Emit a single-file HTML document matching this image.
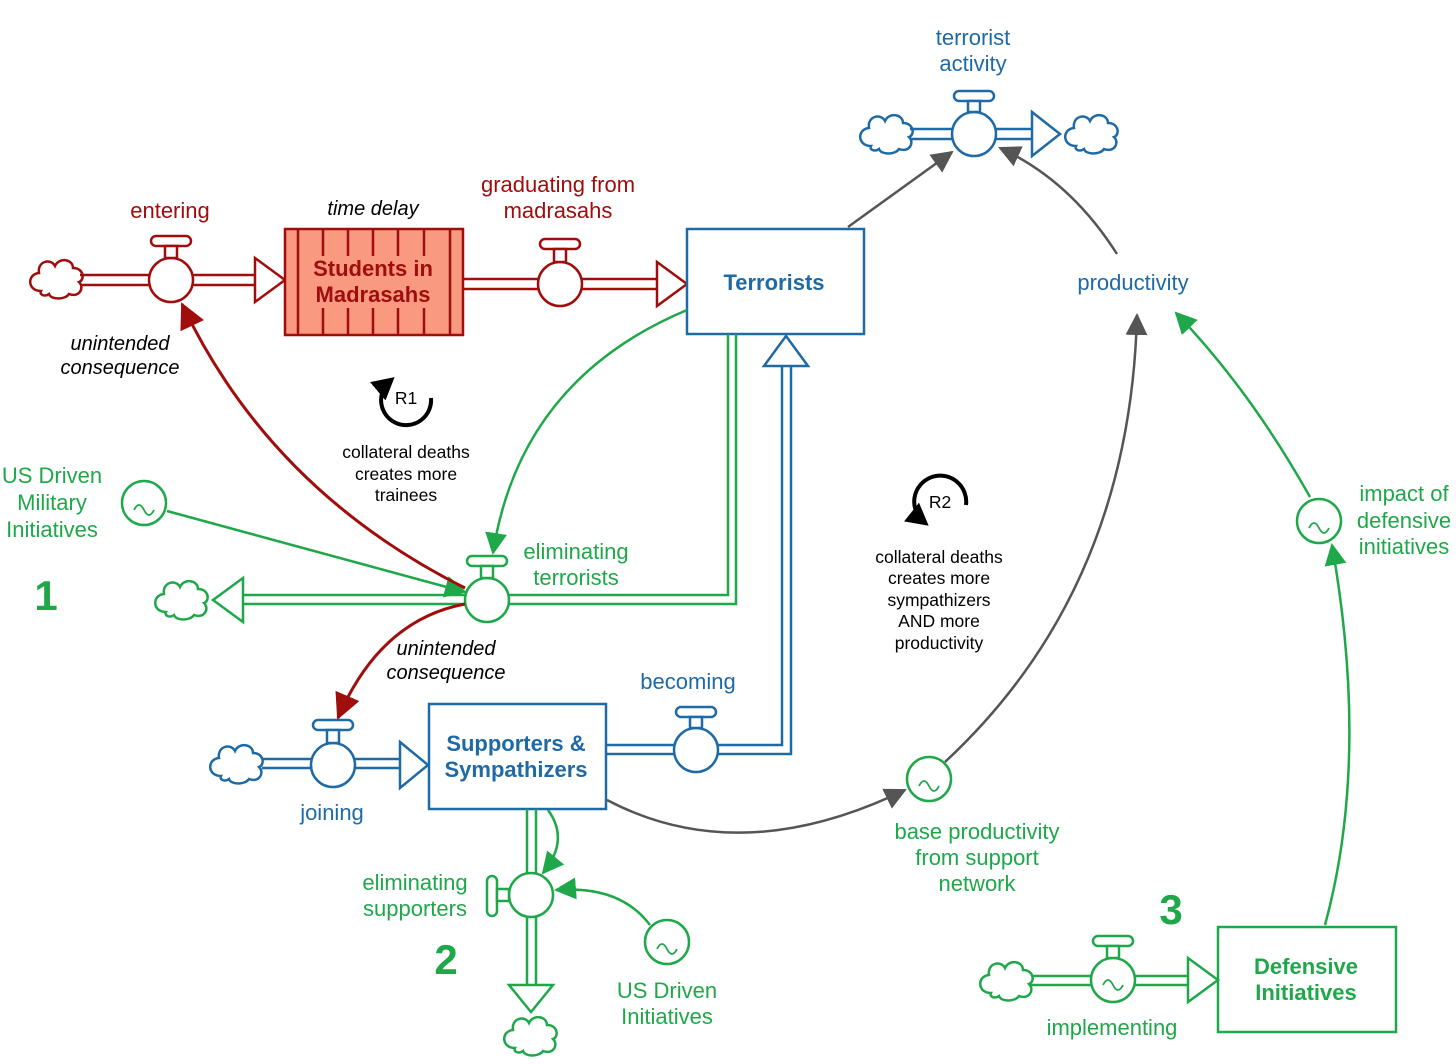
<!DOCTYPE html>
<html><head><meta charset="utf-8"><style>
html,body{margin:0;padding:0;background:#fff;}
svg{display:block;font-family:"Liberation Sans",Arial,sans-serif;}
</style></head><body>
<svg width="1456" height="1064" viewBox="0 0 1456 1064" xmlns="http://www.w3.org/2000/svg">
<defs>
<path id="cloud" d="M-16,13 C-30,13 -30,-4 -18,-5 C-20,-17 -6,-20 -2,-12 C2,-21 16,-19 16,-10 C27,-10 28,2 22,4 C28,10 22,20 12,16 C8,22 -6,22 -8,16 C-12,19 -18,17 -16,13 Z"/>
<marker id="agr" markerWidth="22" markerHeight="22" refX="20" refY="11" orient="auto" markerUnits="userSpaceOnUse"><path d="M0,0 L22,11 L0,22 Z" fill="#555"/></marker>
<marker id="agn" markerWidth="22" markerHeight="22" refX="20" refY="11" orient="auto" markerUnits="userSpaceOnUse"><path d="M0,0 L22,11 L0,22 Z" fill="#1fa84a"/></marker>
<marker id="ard" markerWidth="26" markerHeight="26" refX="24" refY="13" orient="auto" markerUnits="userSpaceOnUse"><path d="M0,0 L26,13 L0,26 Z" fill="#a00d0d"/></marker>
<marker id="abk" markerWidth="22" markerHeight="24" refX="16" refY="12" orient="auto" markerUnits="userSpaceOnUse"><path d="M0,0 L22,12 L0,24 Z" fill="#000"/></marker>
</defs>

<!-- RED CHAIN -->
<g stroke="#a00d0d" stroke-width="2.5" fill="#fff">
<use href="#cloud" x="57" y="278"/>
<line x1="80" y1="275" x2="255" y2="275"/><line x1="80" y1="285" x2="255" y2="285"/>
<polygon points="255,258 285,280 255,302"/>
<circle cx="171" cy="280" r="22"/>
<rect x="151" y="236" width="40" height="10" rx="5"/>
<rect x="165" y="246" width="12" height="12"/>
<rect x="285" y="229" width="178" height="106" fill="#f99a80"/>
<line x1="298" y1="229" x2="298" y2="335"/><line x1="450" y1="229" x2="450" y2="335"/>
<g>
<line x1="323" y1="229" x2="323" y2="256"/><line x1="348" y1="229" x2="348" y2="256"/><line x1="373" y1="229" x2="373" y2="256"/><line x1="398" y1="229" x2="398" y2="256"/><line x1="424" y1="229" x2="424" y2="256"/>
<line x1="323" y1="308" x2="323" y2="335"/><line x1="348" y1="308" x2="348" y2="335"/><line x1="373" y1="308" x2="373" y2="335"/><line x1="398" y1="308" x2="398" y2="335"/><line x1="424" y1="308" x2="424" y2="335"/>
</g>
<line x1="463" y1="279" x2="657" y2="279"/><line x1="463" y1="289" x2="657" y2="289"/>
<polygon points="657,262 687,284 657,306"/>
<circle cx="560" cy="284" r="22"/>
<rect x="540" y="239" width="40" height="10" rx="5"/>
<rect x="554" y="249" width="12" height="13"/>
</g>

<rect x="687" y="229" width="177" height="105" fill="#fff" stroke="#1f6aa5" stroke-width="2.5"/>

<g stroke="#1f6aa5" stroke-width="2.5" fill="#fff">
<use href="#cloud" x="887" y="133"/>
<line x1="910" y1="129" x2="1032" y2="129"/><line x1="910" y1="139" x2="1032" y2="139"/>
<polygon points="1032,112 1060,134 1032,156"/>
<use href="#cloud" x="1092" y="133"/>
<circle cx="974" cy="134" r="22"/>
<rect x="954" y="91" width="40" height="10" rx="5"/>
<rect x="968" y="101" width="12" height="11"/>
</g>

<g stroke="#1fa84a" stroke-width="2.5" fill="none">
<polyline points="728,334 728,595 509,595"/>
<polyline points="736,334 736,604 509,604"/>
<line x1="243" y1="595" x2="465" y2="595"/><line x1="243" y1="604" x2="465" y2="604"/>
<polygon points="243,578 213,600 243,622" fill="#fff"/>
<use href="#cloud" x="182" y="599" fill="#fff"/>
<circle cx="487" cy="600" r="22" fill="#fff"/>
<rect x="467" y="556" width="40" height="10" rx="5" fill="#fff"/>
<rect x="481" y="566" width="12" height="12" fill="#fff"/>
</g>

<g stroke="#1f6aa5" stroke-width="2.5" fill="none">
<polyline points="607,745 782,745 782,366"/>
<polyline points="607,754 791,754 791,366"/>
<polygon points="764,366 786,336 808,366" fill="#fff"/>
<circle cx="696" cy="750" r="22" fill="#fff"/>
<rect x="676" y="707" width="40" height="10" rx="5" fill="#fff"/>
<rect x="690" y="717" width="12" height="11" fill="#fff"/>
<rect x="429" y="704" width="177" height="105" fill="#fff"/>
<use href="#cloud" x="237" y="763" fill="#fff"/>
<line x1="262" y1="759" x2="400" y2="759"/><line x1="262" y1="768" x2="400" y2="768"/>
<polygon points="400,742 428,765 400,788" fill="#fff"/>
<circle cx="333" cy="765" r="22" fill="#fff"/>
<rect x="313" y="720" width="40" height="10" rx="5" fill="#fff"/>
<rect x="327" y="730" width="12" height="13" fill="#fff"/>
</g>

<g stroke="#1fa84a" stroke-width="2.5" fill="#fff">
<line x1="527" y1="809" x2="527" y2="985"/><line x1="536" y1="809" x2="536" y2="985"/>
<polygon points="509,985 531,1012 553,985"/>
<use href="#cloud" x="531" y="1035"/>
<circle cx="531" cy="895" r="22"/>
<rect x="487" y="876" width="10" height="40" rx="5"/>
<rect x="497" y="889" width="12" height="12"/>
</g>

<g stroke="#1fa84a" stroke-width="2.5" fill="#fff">
<rect x="1218" y="927" width="178" height="105"/>
<line x1="1030" y1="976" x2="1188" y2="976"/><line x1="1030" y1="985" x2="1188" y2="985"/>
<polygon points="1188,958 1218,980 1188,1002"/>
<use href="#cloud" x="1007" y="980"/>
<circle cx="1113" cy="980" r="22"/>
<rect x="1093" y="936" width="40" height="10" rx="5"/>
<rect x="1107" y="946" width="12" height="12"/>
<path d="M1103,985 q5,-10 10,0 q5,10 10,0" fill="none" stroke-width="1.8"/>
<circle cx="144" cy="503" r="22"/><path d="M134,510 q5,-10 10,0 q5,10 10,0" fill="none" stroke-width="1.8"/>
<circle cx="1319" cy="521" r="22"/><path d="M1309,528 q5,-10 10,0 q5,10 10,0" fill="none" stroke-width="1.8"/>
<circle cx="929" cy="779" r="22"/><path d="M919,786 q5,-10 10,0 q5,10 10,0" fill="none" stroke-width="1.8"/>
<circle cx="667" cy="942" r="22"/><path d="M657,949 q5,-10 10,0 q5,10 10,0" fill="none" stroke-width="1.8"/>
</g>

<g fill="none" stroke-width="2.5">
<path d="M848,227 L952,152" stroke="#555" marker-end="url(#agr)"/>
<path d="M1117,254 Q1070,180 1000,148" stroke="#555" marker-end="url(#agr)"/>
<path d="M945,762 Q1130,590 1137,315" stroke="#555" marker-end="url(#agr)"/>
<path d="M607,800 Q740,870 905,790" stroke="#555" marker-end="url(#agr)"/>
<path d="M1310,497 Q1250,390 1176,313" stroke="#1fa84a" marker-end="url(#agn)"/>
<path d="M1325,925 Q1370,760 1332,545" stroke="#1fa84a" marker-end="url(#agn)"/>
<path d="M167,511 L465,592" stroke="#1fa84a" marker-end="url(#agn)"/>
<path d="M687,310 Q520,380 493,553" stroke="#1fa84a" marker-end="url(#agn)"/>
<path d="M548,810 Q570,840 543,873" stroke="#1fa84a" marker-end="url(#agn)"/>
<path d="M650,925 Q620,885 556,890" stroke="#1fa84a" marker-end="url(#agn)"/>
<path d="M465,588 Q270,490 182,304" stroke="#a00d0d" stroke-width="3" marker-end="url(#ard)"/>
<path d="M465,604 Q380,620 338,718" stroke="#a00d0d" stroke-width="3" marker-end="url(#ard)"/>
<path d="M431,398 A25,25 0 1 1 390,381" stroke="#000" stroke-width="4" marker-end="url(#abk)"/>
<path d="M966,505 A26,26 0 1 0 924,522" stroke="#000" stroke-width="4" marker-end="url(#abk)"/>
</g>

<g font-size="22" text-anchor="middle">
<text x="170" y="218" fill="#a00d0d">entering</text>
<text x="558" y="192" fill="#a00d0d">graduating from</text>
<text x="558" y="218" fill="#a00d0d">madrasahs</text>
<text x="373" y="276" fill="#a00d0d" font-weight="bold">Students in</text>
<text x="373" y="302" fill="#a00d0d" font-weight="bold">Madrasahs</text>
<text x="774" y="290" fill="#1f6aa5" font-weight="bold">Terrorists</text>
<text x="973" y="45" fill="#1f6aa5">terrorist</text>
<text x="973" y="71" fill="#1f6aa5">activity</text>
<text x="1133" y="290" fill="#1f6aa5">productivity</text>
<text x="516" y="751" fill="#1f6aa5" font-weight="bold">Supporters &amp;</text>
<text x="516" y="777" fill="#1f6aa5" font-weight="bold">Sympathizers</text>
<text x="688" y="689" fill="#1f6aa5">becoming</text>
<text x="332" y="820" fill="#1f6aa5">joining</text>
<text x="52" y="483" fill="#1fa84a">US Driven</text>
<text x="52" y="510" fill="#1fa84a">Military</text>
<text x="52" y="537" fill="#1fa84a">Initiatives</text>
<text x="576" y="559" fill="#1fa84a">eliminating</text>
<text x="576" y="585" fill="#1fa84a">terrorists</text>
<text x="1404" y="501" fill="#1fa84a">impact of</text>
<text x="1404" y="528" fill="#1fa84a">defensive</text>
<text x="1404" y="554" fill="#1fa84a">initiatives</text>
<text x="977" y="839" fill="#1fa84a">base productivity</text>
<text x="977" y="865" fill="#1fa84a">from support</text>
<text x="977" y="891" fill="#1fa84a">network</text>
<text x="415" y="890" fill="#1fa84a">eliminating</text>
<text x="415" y="916" fill="#1fa84a">supporters</text>
<text x="667" y="998" fill="#1fa84a">US Driven</text>
<text x="667" y="1024" fill="#1fa84a">Initiatives</text>
<text x="1112" y="1035" fill="#1fa84a">implementing</text>
<text x="1306" y="974" fill="#1fa84a" font-weight="bold">Defensive</text>
<text x="1306" y="1000" fill="#1fa84a" font-weight="bold">Initiatives</text>
</g>
<g font-size="42" font-weight="bold" fill="#1fa84a" text-anchor="middle">
<text x="46" y="610">1</text>
<text x="446" y="974">2</text>
<text x="1171" y="924">3</text>
</g>
<g font-size="20" font-style="italic" text-anchor="middle" fill="#000">
<text x="373" y="215">time delay</text>
<text x="120" y="350">unintended</text>
<text x="120" y="374">consequence</text>
<text x="446" y="655">unintended</text>
<text x="446" y="679">consequence</text>
</g>
<g font-size="17.5" text-anchor="middle" fill="#000">
<text x="406" y="404">R1</text>
<text x="940" y="508">R2</text>
<text x="406" y="458">collateral deaths</text>
<text x="406" y="480">creates more</text>
<text x="406" y="501">trainees</text>
<text x="939" y="563">collateral deaths</text>
<text x="939" y="584">creates more</text>
<text x="939" y="606">sympathizers</text>
<text x="939" y="627">AND more</text>
<text x="939" y="649">productivity</text>
</g>
</svg>
</body></html>
